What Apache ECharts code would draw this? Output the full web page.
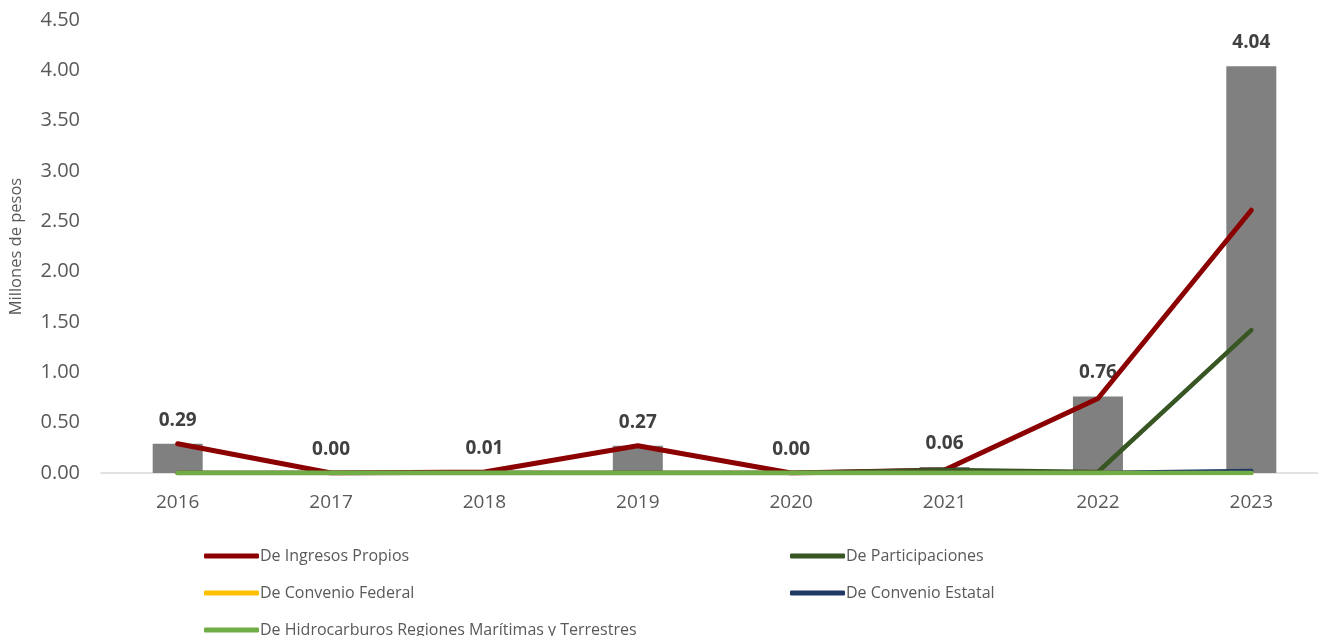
<!DOCTYPE html>
<html><head><meta charset="utf-8">
<script src="https://cdn.jsdelivr.net/npm/echarts@6/dist/echarts.min.js"></script>
<style>html,body{margin:0;padding:0;background:#fff;overflow:hidden;width:1318px;height:636px}#c{width:1340px;height:660px}</style>
</head><body><div id="c"></div>
<script>
const years = ['2016','2017','2018','2019','2020','2021','2022','2023'];
const totalValues = [0.29, 0.00, 0.01, 0.27, 0.00, 0.06, 0.76, 4.04];
const ingresosPropios = [0.29, 0.00, 0.01, 0.27, 0.00, 0.03, 0.74, 2.61];
const participaciones = [0.00, 0.00, 0.00, 0.00, 0.00, 0.03, 0.01, 1.42];
const convenioFederal = [0, 0, 0, 0, 0, 0, 0, 0];
const convenioEstatal = [0, 0, 0, 0, 0, 0, 0, 0.02];
const hidrocarburos = [0, 0, 0, 0, 0, 0, 0, 0];
const yTicks = [0, 4.5, 0.5];

const FONT = '"Open Sans", "Noto Sans", sans-serif';
const chart = echarts.init(document.getElementById('c'));
function lineS(name, data, color, width) {
  return { name, type: 'line', data, symbol: 'none', smooth: false,
    lineStyle: { color, width, cap: 'round' }, itemStyle: { color } };
}
const legendText = { color: '#595959', fontSize: 16, fontFamily: FONT, padding: [0,0,0,-4] };
chart.setOption({
  animation: false,
  textStyle: { fontFamily: FONT },
  grid: { left: 101, top: 20, width: 1227, height: 453, containLabel: false },
  xAxis: {
    type: 'category', data: years,
    axisLine: { lineStyle: { color: '#d9d9d9', width: 1.5 } },
    axisTick: { show: false },
    axisLabel: { color: '#595959', fontSize: 19, margin: 20, fontFamily: FONT }
  },
  yAxis: {
    type: 'value', min: yTicks[0], max: yTicks[1], interval: yTicks[2],
    name: 'Millones de pesos', nameLocation: 'middle', nameGap: 76, nameRotate: 90,
    nameTextStyle: { color: '#595959', fontSize: 16.5, fontFamily: FONT },
    axisLine: { show: false }, axisTick: { show: false }, splitLine: { show: false },
    axisLabel: { color: '#595959', fontSize: 20, margin: 21, fontFamily: FONT,
      formatter: v => v.toFixed(2) }
  },
  legend: [
    { orient: 'vertical', left: 199, top: 543, height: 110, itemWidth: 55, itemHeight: 5, itemGap: 21,
      icon: 'roundRect', textStyle: legendText,
      data: ['De Ingresos Propios', 'De Convenio Federal', 'De Hidrocarburos Regiones Marítimas y Terrestres'] },
    { orient: 'vertical', left: 785, top: 543, height: 110, itemWidth: 55, itemHeight: 5, itemGap: 21,
      icon: 'roundRect', textStyle: legendText,
      data: ['De Participaciones', 'De Convenio Estatal'] }
  ],
  series: [
    { name: 'Total', type: 'bar', data: totalValues, barWidth: 50,
      itemStyle: { color: '#808080' },
      label: { show: true, position: 'top', distance: 14, color: '#404040',
        fontSize: 19, fontWeight: 'bold', fontFamily: FONT, formatter: p => p.value.toFixed(2) } },
    lineS('De Ingresos Propios', ingresosPropios, '#8b0000', 5),
    lineS('De Participaciones', participaciones, '#375623', 4.5),
    lineS('De Convenio Federal', convenioFederal, '#ffc000', 4.5),
    lineS('De Convenio Estatal', convenioEstatal, '#203864', 4.5),
    lineS('De Hidrocarburos Regiones Marítimas y Terrestres', hidrocarburos, '#70ad47', 4.5)
  ]
});
</script></body></html>
